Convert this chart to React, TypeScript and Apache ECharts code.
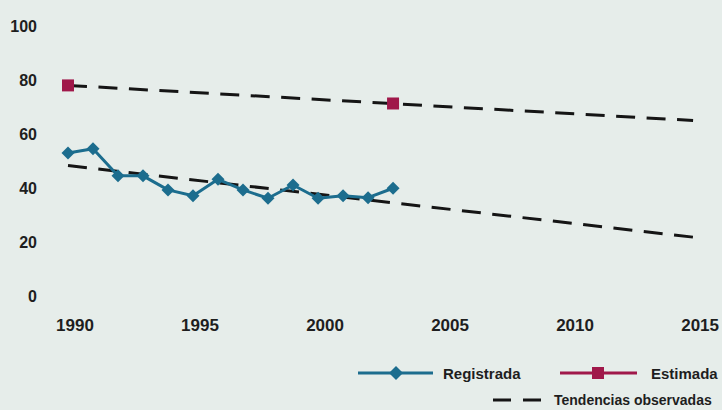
import React, { useEffect, useRef } from "react";
import * as echarts from "echarts";

const years = [1990, 1991, 1992, 1993, 1994, 1995, 1996, 1997, 1998, 1999, 2000, 2001, 2002, 2003];
const registrada = [53, 54.5, 44.5, 44.5, 39.3, 37.1, 43.2, 39.3, 36.2, 41.1, 36.2, 37.1, 36.4, 39.9];
const estimadaYears = [1990, 2003];
const estimada = [78, 71.3];
const trendYears = [1990, 2015];
const trendEstimada = [78, 65];
const trendRegistrada = [48.3, 21.8];
const yTicks = [0, 20, 40, 60, 80, 100];
const xTicks = [1990, 1995, 2000, 2005, 2010, 2015];
const legendLabels = ["Registrada", "Estimada", "Tendencias observadas"];

const BLUE = "#1c6d8e";
const RED = "#a0184a";
const FONT = "'Liberation Sans', Arial, sans-serif";

export default function App() {
  const ref = useRef<HTMLDivElement>(null);
  useEffect(() => {
    document.body.style.margin = "0";
    const chart = echarts.init(ref.current!, null, { renderer: "svg" });
    const zip = (xs: number[], ys: number[]) => xs.map((x, i) => [x, ys[i]]);
    const dash = {
      type: "line",
      showSymbol: false,
      symbol: "none",
      lineStyle: { color: "#151515", width: 3, type: [19, 11.5] },
      z: 2,
    };
    chart.setOption({
      animation: false,
      backgroundColor: "#e6edea",
      grid: { left: 68, right: 22, top: 26, bottom: 114 },
      xAxis: {
        type: "value",
        min: xTicks[0],
        max: xTicks[xTicks.length - 1],
        interval: 5,
        axisLine: { show: false },
        axisTick: { show: false },
        splitLine: { show: false },
        axisLabel: {
          margin: 21,
          padding: [0, 0, 0, 14],
          color: "#1e1e1e",
          fontFamily: FONT,
          fontWeight: "bold",
          fontSize: 17,
          formatter: (v: number) => String(v),
        },
      },
      yAxis: {
        type: "value",
        min: yTicks[0],
        max: yTicks[yTicks.length - 1],
        interval: 20,
        axisLine: { show: false },
        axisTick: { show: false },
        splitLine: { show: false },
        axisLabel: {
          margin: 31,
          color: "#1e1e1e",
          fontFamily: FONT,
          fontWeight: "bold",
          fontSize: 16,
        },
      },
      series: [
        { ...dash, name: legendLabels[2], data: zip(trendYears, trendEstimada) },
        { ...dash, name: legendLabels[2] + " 2", data: zip(trendYears, trendRegistrada) },
        {
          type: "line",
          name: legendLabels[0],
          data: zip(years, registrada),
          symbol: "diamond",
          symbolSize: 13,
          itemStyle: { color: BLUE },
          lineStyle: { color: BLUE, width: 3 },
          z: 3,
        },
        {
          type: "scatter",
          name: legendLabels[1],
          data: zip(estimadaYears, estimada),
          symbol: "rect",
          symbolSize: 12,
          itemStyle: { color: RED, opacity: 1 },
          z: 4,
        },
      ],
      graphic: [
        { type: "line", shape: { x1: 358, y1: 373, x2: 433, y2: 373 }, style: { stroke: BLUE, lineWidth: 3 } },
        { type: "polygon", shape: { points: [[396, 366], [403, 373], [396, 380], [389, 373]] }, style: { fill: BLUE } },
        { type: "text", x: 443, y: 373, style: { text: legendLabels[0], fill: "#1e1e1e", font: `bold 15px ${FONT}`, verticalAlign: "middle" } },
        { type: "line", shape: { x1: 560, y1: 373, x2: 637, y2: 373 }, style: { stroke: RED, lineWidth: 3 } },
        { type: "rect", shape: { x: 592, y: 367, width: 12, height: 12 }, style: { fill: RED } },
        { type: "text", x: 651, y: 373, style: { text: legendLabels[1], fill: "#1e1e1e", font: `bold 15px ${FONT}`, verticalAlign: "middle" } },
        { type: "line", shape: { x1: 493, y1: 400, x2: 543, y2: 400 }, style: { stroke: "#151515", lineWidth: 3, lineDash: [18, 12] } },
        { type: "text", x: 554, y: 400, style: { text: legendLabels[2], fill: "#1e1e1e", font: `bold 14px ${FONT}`, verticalAlign: "middle" } },
      ],
    });
    return () => chart.dispose();
  }, []);
  return <div ref={ref} style={{ width: 722, height: 410 }} />;
}
